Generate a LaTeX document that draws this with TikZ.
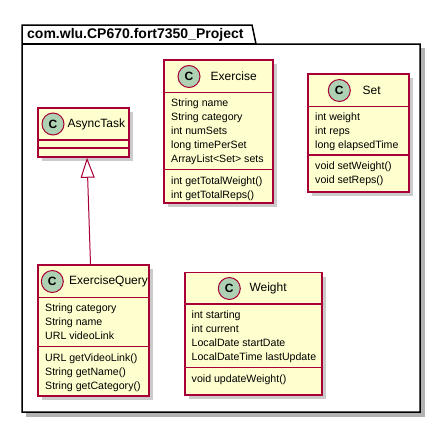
\documentclass[tikz,border=0pt]{standalone}
\usepackage{fontspec}
\setmainfont{Liberation Sans}
\usetikzlibrary{arrows.meta,shadows}
\definecolor{umlred}{HTML}{A80036}
\definecolor{umlfill}{HTML}{FEFECE}
\definecolor{badgegreen}{HTML}{ADD1B2}
\tikzset{classbox/.style={draw=umlred, fill=umlfill, line width=1.5pt, inner sep=0,
           drop shadow={shadow xshift=4pt, shadow yshift=-4pt, fill=black!40, opacity=.5}},
         divider/.style={draw=umlred, line width=1.5pt},
         badge/.style={circle, draw=umlred, fill=badgegreen, line width=1pt, minimum size=22pt,
           inner sep=0, font=\bfseries\fontsize{12}{12}\selectfont},
         cname/.style={anchor=west, inner sep=0, font=\fontsize{12}{14}\selectfont},
         members/.style={anchor=north west, inner sep=0, align=left, font=\fontsize{10.6}{14}\selectfont},
         inherit/.style={draw=umlred, line width=1pt, -{Triangle[open, length=20pt, width=14pt, fill=white]}}}

\begin{document}
\begin{tikzpicture}[x=1pt, y=-1pt]
   \useasboundingbox (0,0) rectangle (441,423);
   \filldraw[black!30] (26,48) -- (424,48) -- (424,416) -- (26,416) -- cycle;
   \filldraw[draw=black, fill=white, line width=1.5pt]
         (22,25) -- (252,25) -- (256,44) -- (420,44) -- (420,412) -- (22,412) -- cycle;
   \draw[line width=1.5pt] (22,44) -- (256,44);
   \node[anchor=west, inner sep=0, font=\bfseries\fontsize{14}{14}\selectfont] (pkg) at (27,35) {com.wlu.CP670.fort7350\_Project};

   \node[classbox, minimum width=91pt, minimum height=49pt] (asynctask) at (83.5,132.5) {};
   \draw[divider] (38,140) -- (129,140);
   \draw[divider] (38,148) -- (129,148);
   \node[badge] (asynctaskC) at (53,124) {C};
   \node[cname] (asynctaskN) at (67.5,124) {AsyncTask};

   \node[classbox, minimum width=109pt, minimum height=143pt] (exercise) at (218.5,131.5) {};
   \draw[divider] (164,92.5) -- (273,92.5);
   \draw[divider] (164,169.5) -- (273,169.5);
   \node[badge] (exerciseC) at (189,76.5) {C};
   \node[cname] (exerciseN) at (210.5,76.5) {Exercise};
   \node[members] (exerciseA) at (171,99) {String name\\String category\\int numSets\\long timePerSet\\ArrayList<Set> sets};
   \node[members] (exerciseM) at (171,176.5) {int getTotalWeight()\\int getTotalReps()};

   \node[classbox, minimum width=101pt, minimum height=118pt] (set) at (358.5,133) {};
   \draw[divider] (308,106.5) -- (409,106.5);
   \draw[divider] (308,155) -- (409,155);
   \node[badge] (setC) at (339.3,90.5) {C};
   \node[cname] (setN) at (362.5,90.5) {Set};
   \node[members] (setA) at (315,113) {int weight\\int reps\\long elapsedTime};
   \node[members] (setM) at (315,162) {void setWeight()\\void setReps()};

   \node[classbox, minimum width=111pt, minimum height=131pt] (exercisequery) at (93.5,330.5) {};
   \draw[divider] (38,297.5) -- (149,297.5);
   \draw[divider] (38,346.5) -- (149,346.5);
   \node[badge] (exercisequeryC) at (52.3,281.5) {C};
   \node[cname] (exercisequeryN) at (69,281.5) {ExerciseQuery};
   \node[members] (exercisequeryA) at (45,304) {String category\\String name\\URL videoLink};
   \node[members] (exercisequeryM) at (45,353.5) {URL getVideoLink()\\String getName()\\String getCategory()};

   \node[classbox, minimum width=137pt, minimum height=122.5pt] (weight) at (253.5,333.75) {};
   \draw[divider] (185,304) -- (322,304);
   \draw[divider] (185,367.5) -- (322,367.5);
   \node[badge] (weightC) at (229.3,288.5) {C};
   \node[cname] (weightN) at (249.3,288.5) {Weight};
   \node[members] (weightA) at (191.5,310.5) {int starting\\int current\\LocalDate startDate\\LocalDateTime lastUpdate};
   \node[members] (weightM) at (191.5,374.5) {void updateWeight()};

   \draw[inherit] ([xshift=-3pt]exercisequery.north) -- ([xshift=3.5pt]asynctask.south);
\end{tikzpicture}
\end{document}
